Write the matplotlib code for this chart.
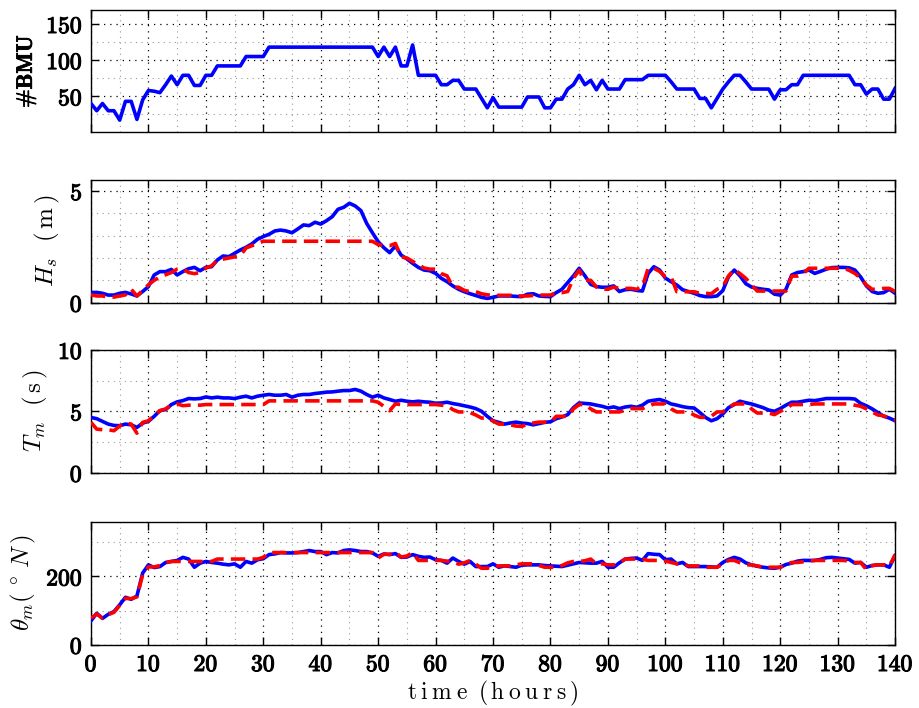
import numpy as np
import matplotlib
matplotlib.use("Agg")
import matplotlib.pyplot as plt
import matplotlib.patheffects as pe
from matplotlib.ticker import MultipleLocator, FuncFormatter

plt.rcParams['mathtext.fontset'] = 'cm'
plt.rcParams['font.family'] = 'DejaVu Serif'

# time axis (hourly samples)
hours = np.arange(141)

n_bmu = [40, 30, 40, 30, 30, 17, 43, 43, 18, 45,
         58, 57, 55, 66, 78, 66, 79, 79, 65, 65,
         79, 79, 92, 92, 92, 92, 92, 105, 105, 105,
         105, 118, 118, 118, 118, 118, 118, 118, 118, 118,
         118, 118, 118, 118, 118, 118, 118, 118, 118, 118,
         105, 118, 105, 118, 92, 92, 121, 79, 79, 79,
         79, 66, 66, 72, 72, 60, 60, 60, 47, 34,
         48, 35, 35, 35, 35, 35, 49, 49, 49, 34,
         34, 46, 46, 60, 66, 79, 66, 72, 59, 72,
         60, 60, 60, 73, 73, 73, 73, 79, 79, 79,
         79, 70, 60, 60, 60, 60, 47, 47, 34, 47,
         60, 70, 79, 79, 70, 60, 60, 60, 60, 46,
         59, 59, 66, 66, 79, 79, 79, 79, 79, 79,
         79, 79, 79, 66, 66, 53, 60, 60, 46, 46, 61]

hs_obs = [0.45, 0.46, 0.42, 0.34, 0.34, 0.42, 0.46, 0.39, 0.30, 0.50,
          0.72, 1.24, 1.39, 1.39, 1.49, 1.24, 1.39, 1.52, 1.58, 1.43,
          1.58, 1.61, 1.91, 2.09, 2.06, 2.21, 2.36, 2.48, 2.63, 2.84,
          2.96, 3.06, 3.21, 3.25, 3.21, 3.13, 3.30, 3.48, 3.45, 3.60,
          3.52, 3.67, 3.85, 4.18, 4.27, 4.45, 4.33, 4.12, 3.55, 3.13,
          2.73, 2.46, 2.24, 2.54, 2.13, 1.96, 1.76, 1.58, 1.46, 1.43,
          1.31, 1.09, 0.94, 0.75, 0.60, 0.49, 0.40, 0.32, 0.24, 0.19,
          0.24, 0.30, 0.30, 0.30, 0.28, 0.27, 0.38, 0.40, 0.30, 0.28,
          0.27, 0.45, 0.60, 0.90, 1.20, 1.54, 1.20, 0.82, 0.72, 0.69,
          0.69, 0.75, 0.50, 0.58, 0.60, 0.55, 0.52, 1.31, 1.61, 1.46,
          1.10, 0.94, 0.79, 0.58, 0.50, 0.42, 0.32, 0.27, 0.27, 0.30,
          0.54, 1.16, 1.46, 1.20, 0.85, 0.70, 0.64, 0.60, 0.57, 0.38,
          0.34, 0.60, 1.24, 1.35, 1.39, 1.46, 1.31, 1.40, 1.50, 1.57,
          1.58, 1.58, 1.56, 1.46, 1.15, 0.75, 0.50, 0.42, 0.45, 0.60, 0.42]

hs_som = [0.35, 0.30, 0.30, 0.25, 0.25, 0.30, 0.35, 0.60, 0.30, 0.55,
          0.80, 1.00, 1.15, 1.25, 1.35, 1.50, 1.50, 1.35, 1.30, 1.35,
          1.55, 1.65, 1.90, 1.95, 2.00, 2.05, 2.10, 2.45, 2.55, 2.65,
          2.75, 2.75, 2.75, 2.75, 2.75, 2.75, 2.75, 2.75, 2.75, 2.75,
          2.75, 2.75, 2.75, 2.75, 2.75, 2.75, 2.75, 2.75, 2.75, 2.75,
          2.60, 2.55, 2.55, 2.65, 2.05, 2.00, 1.85, 1.70, 1.55, 1.50,
          1.50, 1.30, 1.20, 0.70, 0.69, 0.55, 0.49, 0.49, 0.40, 0.35,
          0.33, 0.33, 0.33, 0.33, 0.30, 0.30, 0.30, 0.32, 0.34, 0.34,
          0.34, 0.45, 0.45, 0.50, 1.10, 1.45, 1.00, 1.00, 0.70, 0.60,
          0.60, 0.70, 0.64, 0.64, 0.64, 0.60, 0.70, 1.54, 1.54, 1.40,
          1.16, 1.16, 0.49, 0.49, 0.49, 0.49, 0.42, 0.42, 0.40, 0.60,
          0.72, 1.20, 1.49, 1.30, 1.09, 0.80, 0.52, 0.52, 0.52, 0.52,
          0.52, 0.52, 1.19, 1.19, 1.30, 1.54, 1.54, 1.54, 1.54, 1.54,
          1.54, 1.54, 1.45, 1.31, 1.10, 0.79, 0.60, 0.60, 0.64, 0.64, 0.50]

tm_obs = [4.50, 4.40, 4.18, 3.96, 3.85, 3.83, 3.96, 3.90, 3.69, 4.04,
          4.18, 4.59, 5.05, 5.14, 5.55, 5.77, 5.87, 6.04, 6.01, 6.04,
          6.17, 6.09, 6.15, 6.09, 6.09, 6.04, 6.15, 6.23, 6.09, 6.23,
          6.31, 6.37, 6.31, 6.31, 6.37, 6.15, 6.31, 6.37, 6.37, 6.45,
          6.50, 6.56, 6.58, 6.64, 6.69, 6.69, 6.78, 6.64, 6.37, 6.15,
          6.31, 6.09, 5.96, 5.82, 5.90, 5.82, 5.77, 5.82, 5.77, 5.74,
          5.66, 5.68, 5.74, 5.63, 5.55, 5.45, 5.35, 5.22, 5.00, 4.59,
          4.23, 4.10, 3.96, 4.05, 4.12, 4.04, 4.00, 3.90, 4.00, 4.10,
          4.15, 4.40, 4.54, 4.73, 5.30, 5.68, 5.64, 5.60, 5.50, 5.41,
          5.27, 5.36, 5.22, 5.35, 5.41, 5.33, 5.50, 5.82, 5.90, 5.96,
          5.82, 5.60, 5.50, 5.38, 5.30, 5.27, 4.90, 4.50, 4.23, 4.40,
          4.78, 5.30, 5.55, 5.82, 5.70, 5.60, 5.45, 5.30, 5.10, 5.00,
          5.22, 5.50, 5.74, 5.74, 5.82, 5.90, 5.87, 5.95, 6.04, 6.04,
          6.04, 6.04, 6.04, 6.00, 5.65, 5.45, 5.20, 4.90, 4.60, 4.45, 4.23]

tm_som = [4.10, 3.55, 3.50, 3.50, 3.42, 3.80, 4.05, 3.96, 3.22, 4.10,
          4.23, 4.67, 5.05, 5.20, 5.50, 5.60, 5.46, 5.50, 5.50, 5.50,
          5.55, 5.55, 5.55, 5.55, 5.55, 5.55, 5.55, 5.55, 5.55, 5.55,
          5.55, 5.85, 5.85, 5.85, 5.85, 5.85, 5.85, 5.85, 5.85, 5.85,
          5.85, 5.85, 5.85, 5.85, 5.85, 5.85, 5.85, 5.85, 5.85, 5.85,
          5.74, 5.40, 5.05, 5.60, 5.55, 5.55, 5.55, 5.55, 5.55, 5.55,
          5.55, 5.50, 5.45, 5.14, 4.95, 4.95, 4.90, 4.70, 4.45, 4.45,
          4.20, 3.96, 3.96, 3.90, 3.80, 3.77, 3.95, 4.05, 4.12, 4.12,
          4.12, 4.59, 4.59, 4.59, 5.20, 5.55, 5.55, 5.20, 4.95, 4.95,
          4.95, 4.95, 4.95, 5.10, 5.22, 5.22, 5.22, 5.40, 5.60, 5.60,
          5.60, 5.20, 4.95, 4.95, 4.95, 4.70, 4.51, 4.51, 4.60, 4.95,
          4.95, 5.30, 5.60, 5.60, 5.60, 5.20, 4.86, 4.86, 4.86, 4.73,
          5.00, 5.20, 5.55, 5.55, 5.55, 5.55, 5.60, 5.60, 5.60, 5.60,
          5.60, 5.60, 5.60, 5.50, 5.41, 5.20, 4.95, 4.70, 4.64, 4.45, 4.30]

dir_obs = [70, 92, 77, 89, 97, 117, 139, 133, 143, 210,
           234, 226, 229, 241, 244, 247, 256, 251, 227, 239,
           244, 241, 239, 236, 234, 237, 227, 244, 239, 249,
           252, 264, 266, 270, 269, 269, 270, 273, 276, 273,
           273, 264, 270, 269, 276, 278, 276, 273, 273, 269,
           259, 266, 264, 267, 256, 257, 264, 259, 256, 257,
           249, 247, 239, 254, 244, 236, 244, 229, 229, 229,
           237, 227, 231, 229, 227, 233, 234, 234, 234, 232,
           231, 230, 229, 233, 237, 241, 240, 239, 239, 244,
           227, 227, 240, 251, 253, 254, 247, 267, 265, 264,
           249, 251, 237, 241, 229, 229, 229, 229, 228, 227,
           241, 250, 256, 251, 240, 234, 230, 227, 225, 224,
           227, 235, 239, 245, 247, 247, 247, 250, 255, 256,
           254, 252, 250, 239, 241, 227, 232, 234, 234, 227, 261]

dir_som = [78, 90, 78, 88, 95, 115, 136, 135, 140, 205,
           228, 228, 232, 240, 244, 244, 244, 244, 244, 244,
           244, 244, 251, 251, 251, 251, 251, 251, 251, 251,
           256, 270, 270, 270, 270, 270, 270, 270, 270, 270,
           270, 270, 270, 270, 270, 270, 270, 270, 270, 270,
           254, 265, 265, 271, 257, 260, 270, 247, 247, 247,
           247, 247, 245, 244, 236, 240, 247, 236, 224, 224,
           228, 231, 231, 231, 234, 237, 237, 237, 232, 227,
           227, 227, 232, 240, 244, 244, 246, 251, 237, 237,
           234, 234, 240, 251, 251, 251, 251, 247, 247, 247,
           245, 241, 237, 237, 231, 231, 231, 227, 227, 227,
           236, 247, 247, 240, 234, 234, 231, 227, 227, 227,
           227, 234, 241, 241, 243, 245, 247, 247, 247, 247,
           247, 247, 245, 241, 241, 220, 232, 234, 234, 230, 264]

fig = plt.figure(figsize=(9.19, 7.08), dpi=100)
left, width = 0.099, 0.875
bottoms = [0.813, 0.5725, 0.3323, 0.0894]
height = 0.1735

panels = [
    (n_bmu, None, (0, 170), 50, 25, r'$\#\mathbf{BMU}$', 16),
    (hs_obs, hs_som, (0, 5.5), 5, 1, r'$H_s\ \ (\,\mathrm{m}\,)$', 18),
    (tm_obs, tm_som, (0, 10), 5, 2.5, r'$T_m\ \ (\,\mathrm{s}\,)$', 18),
    (dir_obs, dir_som, (0, 360), 200, 100, r'$\theta_m(\,^\circ\, N\,)$', 18),
]

bold_fmt = FuncFormatter(lambda v, p: r'$\mathbf{%d}$' % round(v))
thicken = [pe.withStroke(linewidth=0.8, foreground='k')]

for i, (obs, som, ylim, major, minor, label, lsize) in enumerate(panels):
    ax = fig.add_axes([left, bottoms[i], width, height])
    ax.plot(hours, obs, color='#0000ff', lw=2.6, zorder=3)
    if som is not None:
        ax.plot(hours, som, color='#ff0000', lw=2.6, dashes=(4, 2), zorder=4)
    ax.set_xlim(0, 140)
    ax.set_ylim(*ylim)
    ax.xaxis.set_major_locator(MultipleLocator(10))
    ax.xaxis.set_minor_locator(MultipleLocator(5))
    ax.yaxis.set_major_locator(MultipleLocator(major))
    ax.yaxis.set_minor_locator(MultipleLocator(minor))
    if i == 0:
        ax.set_yticks([50, 100, 150])
    ax.grid(which='major', color='k', linestyle=(0, (1, 4)), linewidth=0.9)
    ax.grid(which='minor', color='0.6', linestyle=(0, (1, 4)), linewidth=0.8)
    ax.set_axisbelow(True)
    ax.tick_params(which='major', direction='in', length=6, width=1,
                   top=True, right=True, labelsize=17, pad=6)
    ax.tick_params(which='minor', length=0)
    ax.yaxis.set_major_formatter(bold_fmt)
    ax.xaxis.set_major_formatter(bold_fmt)
    for t in ax.get_xticklabels() + ax.get_yticklabels():
        t.set_path_effects(thicken)
    for s in ax.spines.values():
        s.set_linewidth(1.0)
    yl = ax.set_ylabel(label, fontsize=lsize, labelpad=6)
    if i == 0:
        yl.set_path_effects([pe.withStroke(linewidth=0.6, foreground='k')])
    if i < 3:
        ax.tick_params(labelbottom=False)
    else:
        ax.set_xlabel(r'$\mathrm{t\:i\:m\:e\;\;(\,h\:o\:u\:r\:s\,)}$',
                      fontsize=17, labelpad=2)

fig.savefig('out.png', dpi=100)
